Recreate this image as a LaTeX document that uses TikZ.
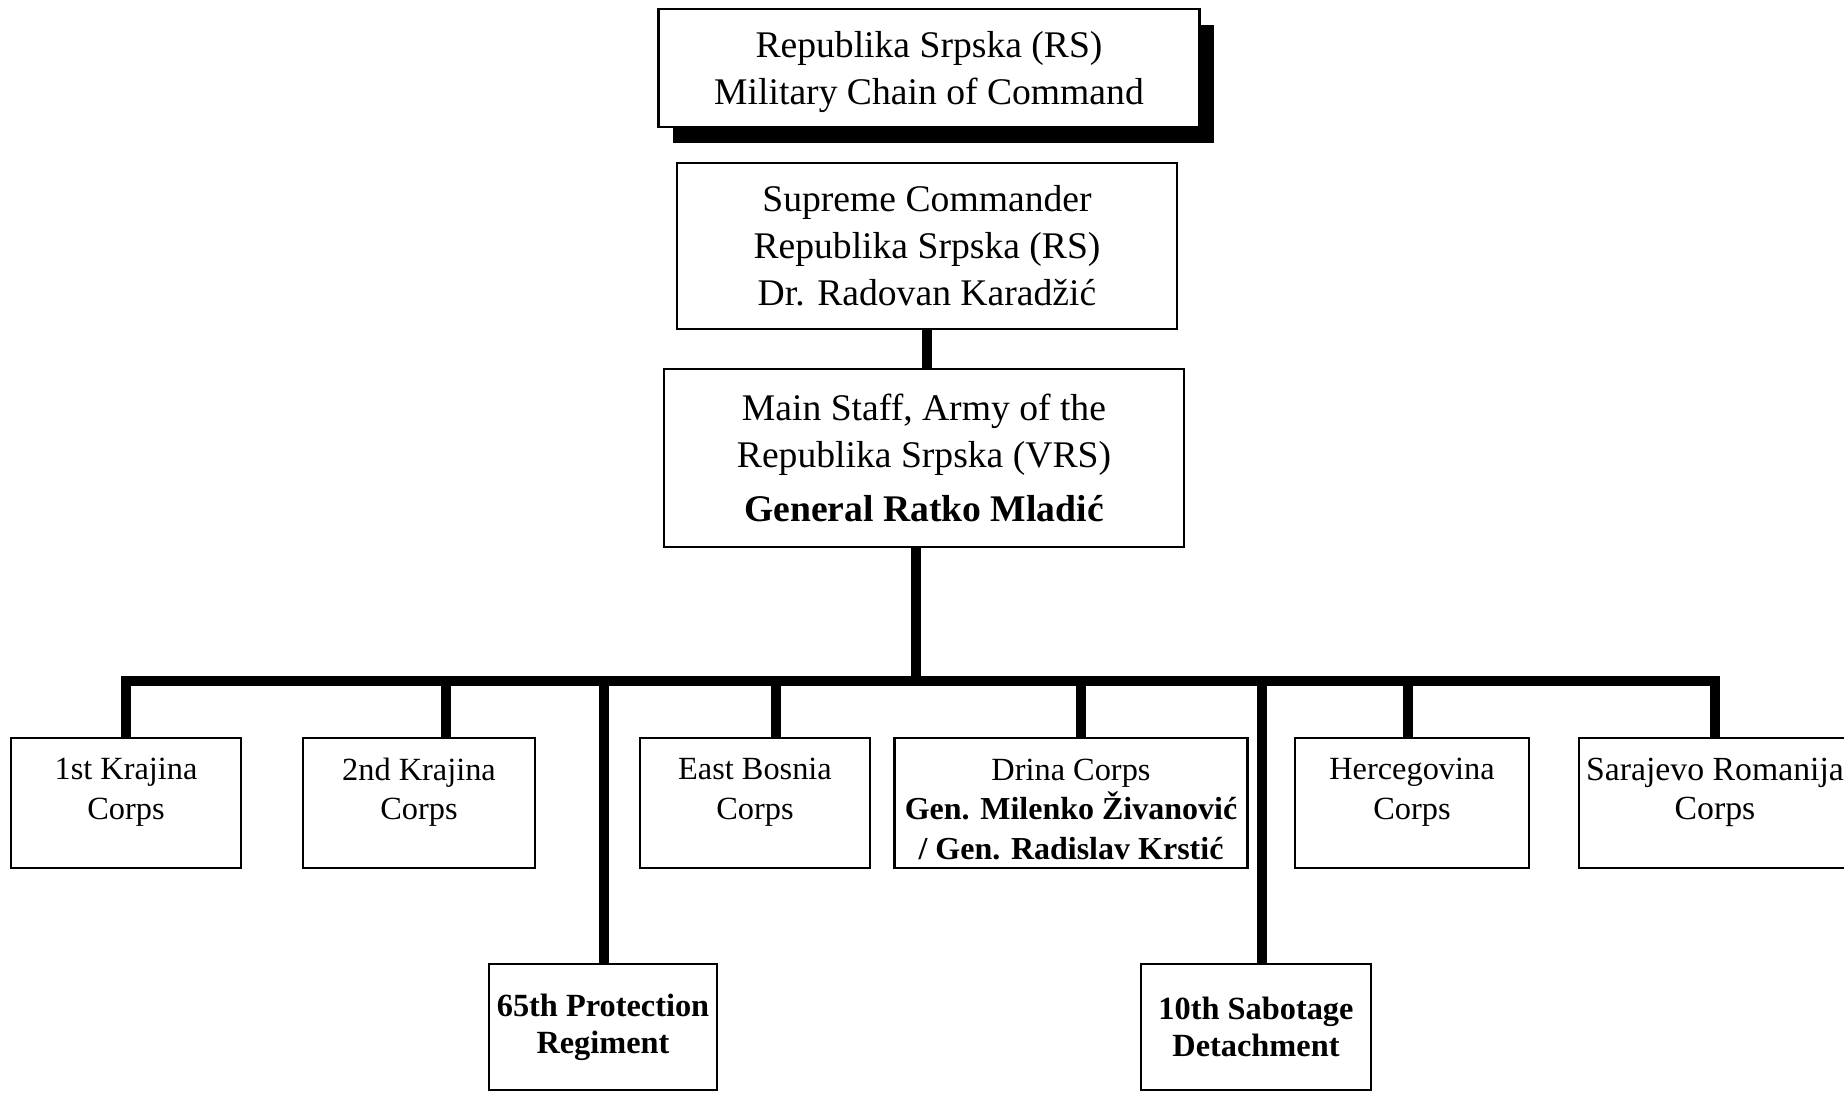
\documentclass[tikz,border=0pt]{standalone}
\usepackage{fontspec}
\setmainfont{Liberation Serif}
\usetikzlibrary{positioning, shadows}

\newcommand{\gen}[1]{{\fontsize{9.1}{11}\selectfont\bfseries #1}}

\begin{document}
\begin{tikzpicture}[x=0.01cm, y=-0.01cm,
    box/.style={draw, line width=0.7pt, align=center, inner sep=2pt, fill=white},
    chief/.style={box, font=\fontsize{10.7}{13.4}\selectfont},
    corps/.style={box, minimum height=1.30cm, text depth=8pt, font=\fontsize{9.2}{11.2}\selectfont},
    unit/.style={box, minimum height=1.26cm, font=\fontsize{9.2}{10.6}\selectfont\bfseries},
    link/.style={line width=2.8pt}]
   \useasboundingbox (0,0) rectangle (1844,1093);
   \clip (0,0) rectangle (1844,1093);

   % top of the chain
   \node[chief, minimum width=5.41cm, minimum height=1.18cm, text depth=0pt,
         drop shadow={shadow xshift=4.2pt, shadow yshift=-4.5pt, fill=black, opacity=1}]
         (title) at (929,68) {Republika Srpska (RS)\\Military Chain of Command};
   \node[chief, minimum width=5.00cm, minimum height=1.66cm] (sc) at (927,246)
         {Supreme Commander\\Republika Srpska (RS)\\Dr. Radovan Karadžić};
   \node[chief, minimum width=5.20cm, minimum height=1.78cm] (ms) at (924,458)
         {Main Staff, Army of the\\Republika Srpska (VRS)\\[2pt]\textbf{General Ratko Mladić}};

   % corps
   \node[corps, minimum width=2.30cm] (k1) at (126,803) {1st Krajina\\Corps};
   \node[corps, minimum width=2.32cm] (k2) at (419,803) {2nd Krajina\\Corps};
   \node[corps, minimum width=2.30cm] (eb) at (755,803) {East Bosnia\\Corps};
   \node[corps, minimum width=3.53cm, text depth=0pt] (dr) at (1071,803)
         {\rule{0pt}{9.5pt}Drina Corps\\\gen{Gen. Milenko Živanović}\\\gen{/ Gen. Radislav Krstić}};
   \node[corps, minimum width=2.34cm] (hc) at (1412,803) {Hercegovina\\Corps};
   \node[corps, minimum width=2.70cm, font=\fontsize{9.6}{11.2}\selectfont] (sr) at (1715,803)
         {Sarajevo Romanija\\Corps};

   % units under the Main Staff
   \node[unit, minimum width=2.28cm] (p65) at (603,1027) {65th Protection\\Regiment};
   \node[unit, minimum width=2.30cm] (s10) at (1256,1027) {10th Sabotage\\Detachment};

   \coordinate (bar) at (916,681);
   \coordinate (d2) at (446,681);
   \coordinate (d3) at (776,681);
   \coordinate (d4) at (1081,681);
   \coordinate (d5) at (1408,681);
   \coordinate (d6) at (604,681);
   \coordinate (d7) at (1262,681);

   \draw[link] (sc.south) -- (sc.south |- ms.north);
   \draw[link] (bar |- ms.south) -- (bar);
   \draw[link] (k1.north) |- (bar) -| (sr.north);
   \draw[link]
    (d2) -- (d2 |- k2.north)
    (d3) -- (d3 |- eb.north)
    (d4) -- (d4 |- dr.north)
    (d5) -- (d5 |- hc.north)
    (d6) -- (d6 |- p65.north)
    (d7) -- (d7 |- s10.north);
\end{tikzpicture}
\end{document}
